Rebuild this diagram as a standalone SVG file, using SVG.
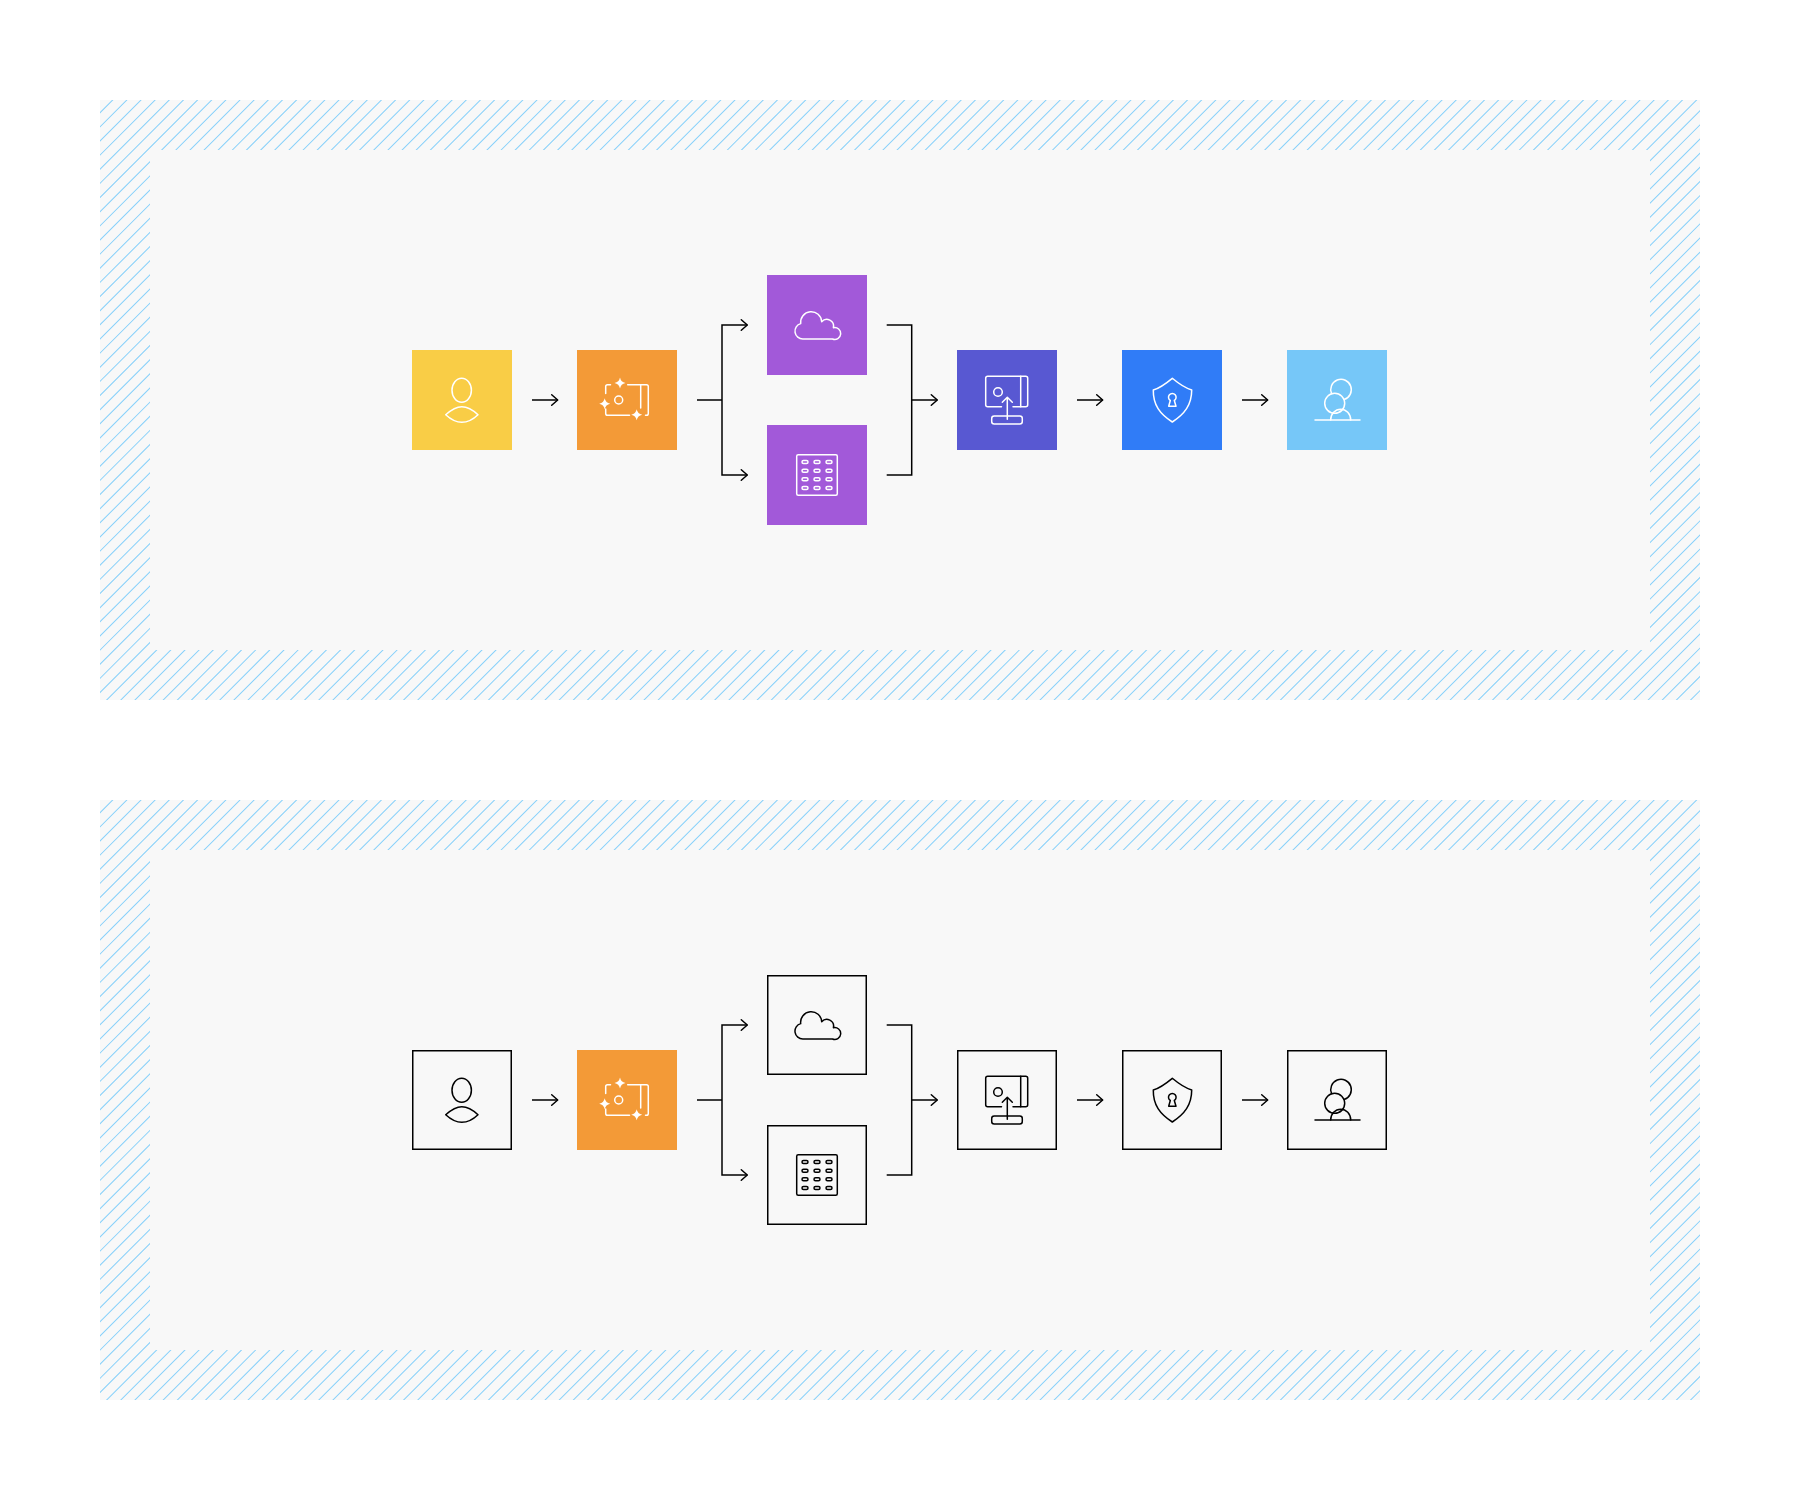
<svg xmlns="http://www.w3.org/2000/svg" width="1800" height="1500" viewBox="0 0 1800 1500">
<style>
.ic{fill:none;stroke:currentColor;stroke-width:1.5;stroke-linecap:round;stroke-linejoin:round}
.sp{fill:currentColor;stroke:none}
.w{color:#fff}
.k{color:#000}
.box{fill:none;stroke:#000;stroke-width:1.5}
.conn{fill:none;stroke:#000;stroke-width:1.5}
.head{fill:none;stroke:#000;stroke-width:1.5;stroke-linejoin:round;stroke-linecap:round}
</style>
<defs>
<clipPath id="panel-clip"><rect x="100" y="100" width="1600" height="600"/></clipPath>
<marker id="arrow" markerUnits="userSpaceOnUse" markerWidth="12" markerHeight="16" viewBox="0 0 12 16" refX="8.5" refY="8" orient="auto">
<path class="head" d="M2.5 2.7L8.5 8L2.5 13.3"/>
</marker>
<g id="panel">
<rect x="100" y="100" width="1600" height="600" fill="#f8f8f8"/>
<g clip-path="url(#panel-clip)">
<line x1="-0.07" y1="-0.07" x2="1768" y2="1768" stroke="#86d0fa" stroke-width="4000" stroke-dasharray="1 9"/>
</g>
<rect x="150" y="150" width="1500" height="500" fill="#f8f8f8"/>
</g>
<g id="i-person" class="ic">
<ellipse cx="461.7" cy="390.3" rx="9.7" ry="12"/>
<path d="M445.7 414.7C451 410 456 406.7 461.8 406.7C467.6 406.7 473 410 478 414.7C473 419.5 467.6 422.3 461.8 422.3C456 422.3 451 419.5 445.7 414.7Z"/>
</g>
<g id="i-vault" class="ic">
<path d="M605.7 393.5V386.5Q605.7 384.7 607.5 384.7H610.5"/>
<path d="M627.7 384.7H646.5Q648.3 384.7 648.3 386.5V413.5Q648.3 415.3 646.5 415.3H645.5"/>
<path d="M640.7 384.7V408"/>
<path d="M605.7 409V413.5Q605.7 415.3 607.5 415.3H629.5"/>
<circle cx="618.7" cy="400" r="4"/>
<path class="sp" d="M620 377.5Q620.9 382.1 625.5 383Q620.9 383.9 620 388.5Q619.1 383.9 614.5 383Q619.1 382.1 620 377.5Z"/>
<path class="sp" d="M604.7 398.2Q605.6 402.8 610.2 403.7Q605.6 404.6 604.7 409.2Q603.8 404.6 599.2 403.7Q603.8 402.8 604.7 398.2Z"/>
<path class="sp" d="M636.7 409.2Q637.6 413.8 642.2 414.7Q637.6 415.6 636.7 420.2Q635.8 415.6 631.2 414.7Q635.8 413.8 636.7 409.2Z"/>
</g>
<g id="i-cloud" class="ic">
<path d="M803 339H832.5A5.95 5.95 0 1 0 833.4 327.7A6.8 6.8 0 0 0 821.7 321.7A10.55 10.55 0 1 0 800.7 323.6A7.85 7.85 0 0 0 803 339Z"/>
</g>
<g id="i-grid" class="ic">
<rect x="796.7" y="454.7" width="40.6" height="40.6" rx="1.5"/>
<rect x="802" y="460.5" width="6" height="3" rx="1.5"/><rect x="814" y="460.5" width="6" height="3" rx="1.5"/><rect x="826" y="460.5" width="6" height="3" rx="1.5"/>
<rect x="802" y="469.2" width="6" height="3" rx="1.5"/><rect x="814" y="469.2" width="6" height="3" rx="1.5"/><rect x="826" y="469.2" width="6" height="3" rx="1.5"/>
<rect x="802" y="477.8" width="6" height="3" rx="1.5"/><rect x="814" y="477.8" width="6" height="3" rx="1.5"/><rect x="826" y="477.8" width="6" height="3" rx="1.5"/>
<rect x="802" y="486.5" width="6" height="3" rx="1.5"/><rect x="814" y="486.5" width="6" height="3" rx="1.5"/><rect x="826" y="486.5" width="6" height="3" rx="1.5"/>
</g>
<g id="i-upload" class="ic">
<path d="M1001.5 406.7H987.7Q985.7 406.7 985.7 404.7V378.3Q985.7 376.3 987.7 376.3H1025.7Q1027.7 376.3 1027.7 378.3V404.7Q1027.7 406.7 1025.7 406.7H1013"/>
<path d="M1020.7 376.3V406.7"/>
<circle cx="998" cy="392" r="4.3"/>
<path d="M1007.3 398V419.3M1002.3 402.3L1007.3 397.3L1012.3 402.3"/>
<rect x="991.7" y="416" width="30.6" height="8" rx="2.5"/>
</g>
<g id="i-shield" class="ic">
<path d="M1172.3 378.3C1166 383.5 1160 388 1153.3 390C1153 405 1160 414 1172.3 422C1184.5 414 1191.7 405 1191.7 390C1185 388 1178.5 383.5 1172.3 378.3Z"/>
<path d="M1170.3 400.5L1168.7 406.3H1176L1174.3 400.5A3.8 3.8 0 1 0 1170.3 400.5Z"/>
</g>
<g id="i-people" class="ic">
<path d="M1331.6 393.8A10.3 10.3 0 1 1 1344 399.5"/>
<circle cx="1334.7" cy="403.3" r="10"/>
<path d="M1330.7 420A10 10.8 0 0 1 1350.7 420"/>
<path d="M1315 420H1360"/>
</g>
</defs>

<g id="panels">
<use id="panel-top" href="#panel"/>
<use id="panel-bottom" href="#panel" y="700"/>
</g>

<g id="connectors-top">
<path class="conn" marker-end="url(#arrow)" d="M532 400H557.7"/>
<path class="conn" d="M697 400H722"/>
<path class="conn" marker-end="url(#arrow)" d="M722 400V325H747.3"/>
<path class="conn" marker-end="url(#arrow)" d="M722 400V475H747.3"/>
<path class="conn" d="M886.7 325H911.7V475H886.7"/>
<path class="conn" marker-end="url(#arrow)" d="M911.7 400H937.3"/>
<path class="conn" marker-end="url(#arrow)" d="M1077 400H1102.7"/>
<path class="conn" marker-end="url(#arrow)" d="M1242 400H1267.7"/>
</g>
<g id="connectors-bottom">
<path class="conn" marker-end="url(#arrow)" d="M532 1100H557.7"/>
<path class="conn" d="M697 1100H722"/>
<path class="conn" marker-end="url(#arrow)" d="M722 1100V1025H747.3"/>
<path class="conn" marker-end="url(#arrow)" d="M722 1100V1175H747.3"/>
<path class="conn" d="M886.7 1025H911.7V1175H886.7"/>
<path class="conn" marker-end="url(#arrow)" d="M911.7 1100H937.3"/>
<path class="conn" marker-end="url(#arrow)" d="M1077 1100H1102.7"/>
<path class="conn" marker-end="url(#arrow)" d="M1242 1100H1267.7"/>
</g>

<g id="top-user"><rect x="412" y="350" width="100" height="100" fill="#f9cd46"/><use href="#i-person" class="w"/></g>
<g id="top-vault"><rect x="577" y="350" width="100" height="100" fill="#f39a37"/><use href="#i-vault" class="w"/></g>
<g id="top-cloud"><rect x="767" y="275" width="100" height="100" fill="#a259d9"/><use href="#i-cloud" class="w"/></g>
<g id="top-grid"><rect x="767" y="425" width="100" height="100" fill="#a259d9"/><use href="#i-grid" class="w"/></g>
<g id="top-upload"><rect x="957" y="350" width="100" height="100" fill="#5858d2"/><use href="#i-upload" class="w"/></g>
<g id="top-shield"><rect x="1122" y="350" width="100" height="100" fill="#307cf7"/><use href="#i-shield" class="w"/></g>
<g id="top-people"><rect x="1287" y="350" width="100" height="100" fill="#76c7f8"/><use href="#i-people" class="w"/></g>

<g id="bottom-user"><rect class="box" x="412.75" y="1050.75" width="98.5" height="98.5"/><use href="#i-person" class="k" y="700"/></g>
<g id="bottom-vault"><rect x="577" y="1050" width="100" height="100" fill="#f39a37"/><use href="#i-vault" class="w" y="700"/></g>
<g id="bottom-cloud"><rect class="box" x="767.75" y="975.75" width="98.5" height="98.5"/><use href="#i-cloud" class="k" y="700"/></g>
<g id="bottom-grid"><rect class="box" x="767.75" y="1125.75" width="98.5" height="98.5"/><use href="#i-grid" class="k" y="700"/></g>
<g id="bottom-upload"><rect class="box" x="957.75" y="1050.75" width="98.5" height="98.5"/><use href="#i-upload" class="k" y="700"/></g>
<g id="bottom-shield"><rect class="box" x="1122.75" y="1050.75" width="98.5" height="98.5"/><use href="#i-shield" class="k" y="700"/></g>
<g id="bottom-people"><rect class="box" x="1287.75" y="1050.75" width="98.5" height="98.5"/><use href="#i-people" class="k" y="700"/></g>
</svg>
